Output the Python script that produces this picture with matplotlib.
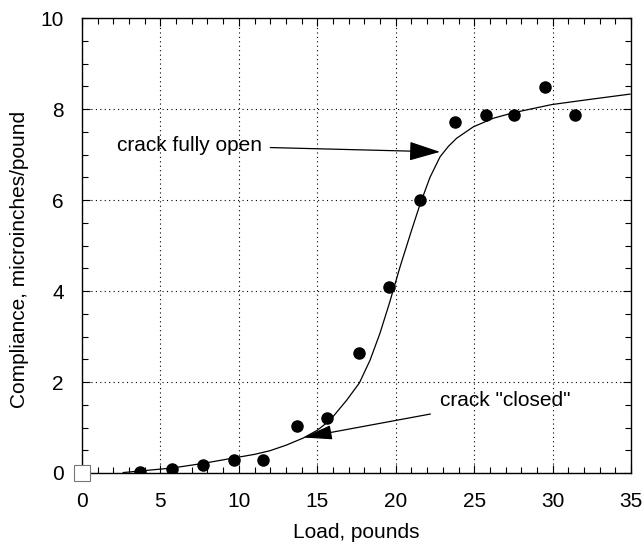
import matplotlib.pyplot as plt
from matplotlib.ticker import MultipleLocator

plt.rcParams["font.family"] = ["Liberation Sans", "DejaVu Sans"]

# measured compliance vs load
load = [3.7, 5.76, 7.69, 9.67, 11.56, 13.72, 15.64, 17.68, 19.6, 21.56,
        23.77, 25.75, 27.55, 29.53, 31.44]
compliance = [0.03, 0.08, 0.18, 0.29, 0.29, 1.04, 1.22, 2.64, 4.08, 6.0,
              7.71, 7.86, 7.86, 8.49, 7.86]

# fitted curve
fit_load = [2.63, 4.2, 5.76, 7.7, 9.67, 11.0, 11.98, 13.0, 14.11, 15.0, 15.81,
            16.87, 17.68, 18.36, 18.99, 19.6, 20.27, 21.01, 21.54, 22.18,
            22.82, 23.35, 23.88, 24.94, 26.22, 27.49, 29.94, 32.5, 34.93]
fit_compliance = [0.01, 0.06, 0.11, 0.21, 0.33, 0.41, 0.49, 0.61, 0.77, 0.94,
                  1.16, 1.6, 1.98, 2.48, 3.07, 3.74, 4.53, 5.34, 5.9, 6.5,
                  6.95, 7.18, 7.36, 7.61, 7.8, 7.92, 8.1, 8.22, 8.33]

fig = plt.figure(figsize=(6.44, 5.5), dpi=100)
ax = fig.add_axes([0.1273, 0.14, 0.8527, 0.827])

ax.plot(fit_load, fit_compliance, color="black", lw=0.9)
ax.plot(load, compliance, "o", color="black", ms=8)
ax.plot([0], [0], "s", mfc="white", mec="#777777", mew=0.8, ms=12, clip_on=False, zorder=5)

ax.set_xlim(0, 35)
ax.set_ylim(0, 10)
ax.xaxis.set_major_locator(MultipleLocator(5))
ax.xaxis.set_minor_locator(MultipleLocator(1))
ax.yaxis.set_major_locator(MultipleLocator(2))
ax.yaxis.set_minor_locator(MultipleLocator(0.5))
ax.tick_params(which="both", direction="in", top=True, right=True, labelsize=15)
ax.tick_params(axis="x", pad=14)
ax.tick_params(axis="y", pad=13)
ax.tick_params(which="major", length=6, width=0.8)
ax.tick_params(which="minor", length=4, width=0.8)
ax.grid(True, which="major", color="black", linestyle=(0, (1, 3)), lw=0.8)
for s in ax.spines.values():
    s.set_linewidth(1.0)

ax.set_xlabel("Load, pounds", fontsize=15, labelpad=8)
ax.set_ylabel("Compliance, microinches/pound", fontsize=15)
ax.yaxis.set_label_coords(-0.096, 0.47)

ax.annotate("crack fully open", xy=(22.82, 7.06), xytext=(2.23, 7.2),
            fontsize=15, va="center", ha="left",
            arrowprops=dict(arrowstyle="-|>,head_length=1.3,head_width=0.4",
                            color="black", lw=0.9, shrinkA=4, shrinkB=0))
ax.annotate('crack "closed"', xy=(14.11, 0.78), xytext=(22.8, 1.6),
            fontsize=15, va="center", ha="left",
            arrowprops=dict(arrowstyle="-|>,head_length=1.2,head_width=0.3",
                            color="black", lw=0.9, shrinkA=6, shrinkB=0))

fig.savefig("out.png", dpi=100)
